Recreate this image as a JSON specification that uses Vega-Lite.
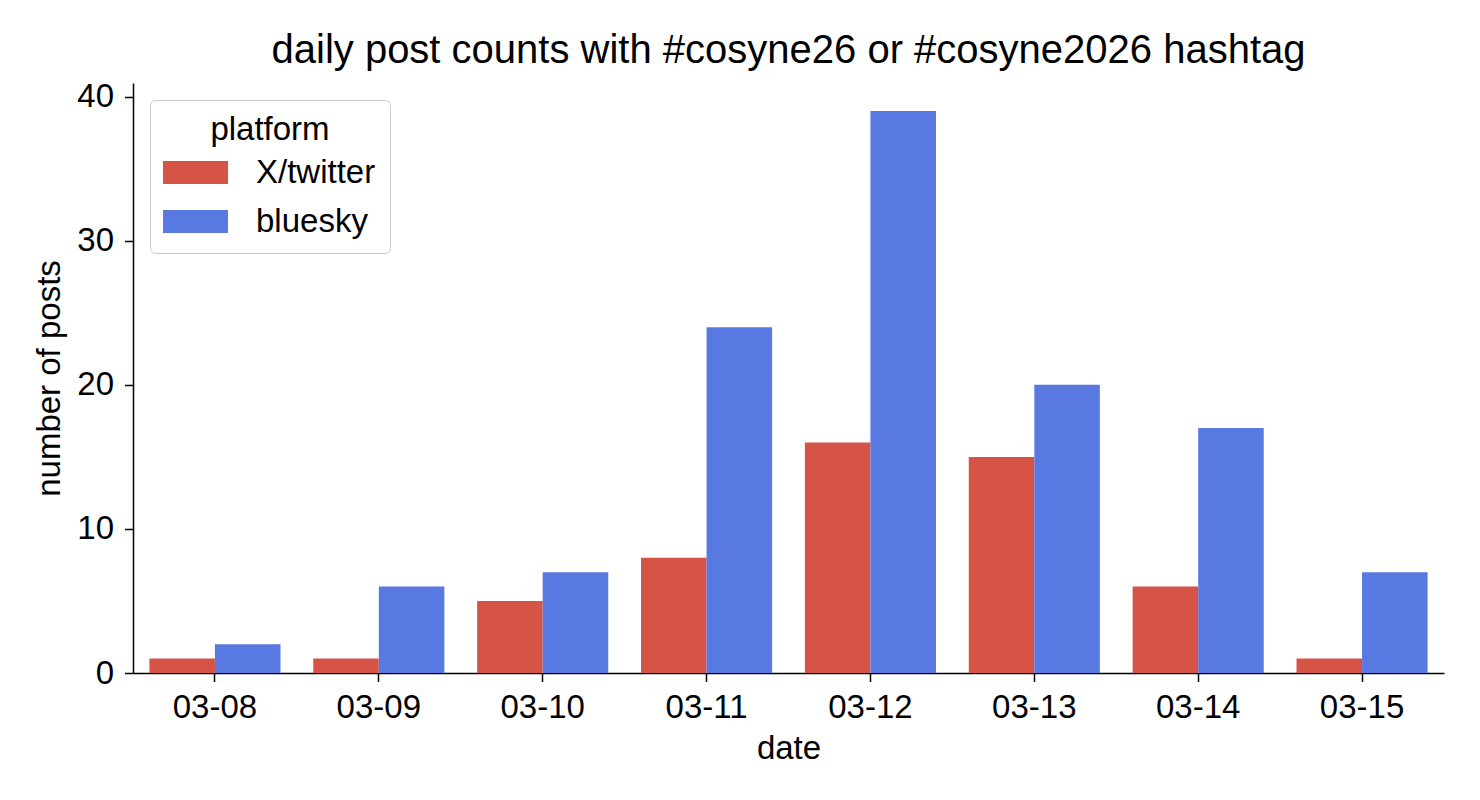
{
  "$schema": "https://vega.github.io/schema/vega-lite/v6.json",
  "autosize": {"type": "none"},
  "padding": {"left": 133, "top": 83, "right": 36, "bottom": 127},
  "width": 1311,
  "height": 590,
  "background": "white",
  "title": {
    "text": "daily post counts with #cosyne26 or #cosyne2026 hashtag",
    "font": "Liberation Sans",
    "fontSize": 40,
    "fontWeight": "normal",
    "color": "black",
    "anchor": "middle",
    "frame": "group",
    "offset": 10
  },
  "data": {
    "values": [
      {"date": "03-08", "platform": "X/twitter", "posts": 1},
      {"date": "03-08", "platform": "bluesky", "posts": 2},
      {"date": "03-09", "platform": "X/twitter", "posts": 1},
      {"date": "03-09", "platform": "bluesky", "posts": 6},
      {"date": "03-10", "platform": "X/twitter", "posts": 5},
      {"date": "03-10", "platform": "bluesky", "posts": 7},
      {"date": "03-11", "platform": "X/twitter", "posts": 8},
      {"date": "03-11", "platform": "bluesky", "posts": 24},
      {"date": "03-12", "platform": "X/twitter", "posts": 16},
      {"date": "03-12", "platform": "bluesky", "posts": 39},
      {"date": "03-13", "platform": "X/twitter", "posts": 15},
      {"date": "03-13", "platform": "bluesky", "posts": 20},
      {"date": "03-14", "platform": "X/twitter", "posts": 6},
      {"date": "03-14", "platform": "bluesky", "posts": 17},
      {"date": "03-15", "platform": "X/twitter", "posts": 1},
      {"date": "03-15", "platform": "bluesky", "posts": 7}
    ]
  },
  "mark": {"type": "bar"},
  "encoding": {
    "x": {
      "field": "date",
      "type": "nominal",
      "scale": {"paddingInner": 0.2, "paddingOuter": 0.1},
      "axis": {"title": "date", "labelAngle": 0, "labelPadding": 10, "titlePadding": 8}
    },
    "xOffset": {
      "field": "platform",
      "type": "nominal",
      "sort": ["X/twitter", "bluesky"],
      "scale": {"paddingInner": 0, "paddingOuter": 0}
    },
    "y": {
      "field": "posts",
      "type": "quantitative",
      "scale": {"domain": [0, 40.95], "nice": false},
      "axis": {"title": "number of posts", "values": [0, 10, 20, 30, 40], "labelPadding": 11, "titlePadding": 10}
    },
    "color": {
      "field": "platform",
      "type": "nominal",
      "sort": ["X/twitter", "bluesky"],
      "scale": {"domain": ["X/twitter", "bluesky"], "range": ["#d65446", "#5878e2"]},
      "legend": {"title": "platform"}
    }
  },
  "config": {
    "view": {"stroke": null},
    "font": "Liberation Sans",
    "axis": {
      "grid": false,
      "domainColor": "black",
      "domainWidth": 1.5,
      "tickColor": "black",
      "tickWidth": 1.5,
      "tickSize": 8.5,
      "labelFont": "Liberation Sans",
      "labelFontSize": 33,
      "labelColor": "black",
      "titleFont": "Liberation Sans",
      "titleFontSize": 33,
      "titleFontWeight": "normal",
      "titleColor": "black"
    },
    "legend": {
      "orient": "top-left",
      "offset": 17,
      "padding": 14,
      "strokeColor": "#cccccc",
      "fillColor": "white",
      "cornerRadius": 5,
      "titleFont": "Liberation Sans",
      "titleFontSize": 33,
      "titleFontWeight": "normal",
      "titleColor": "black",
      "titleAnchor": "middle",
      "titlePadding": 9,
      "labelFont": "Liberation Sans",
      "labelFontSize": 33,
      "labelColor": "black",
      "labelOffset": 59,
      "rowPadding": 15,
      "symbolType": "M-1.52,-1L4.132,-1L4.132,1L-1.52,1Z",
      "symbolSize": 529,
      "symbolStrokeWidth": 0,
      "symbolOpacity": 1
    }
  }
}
